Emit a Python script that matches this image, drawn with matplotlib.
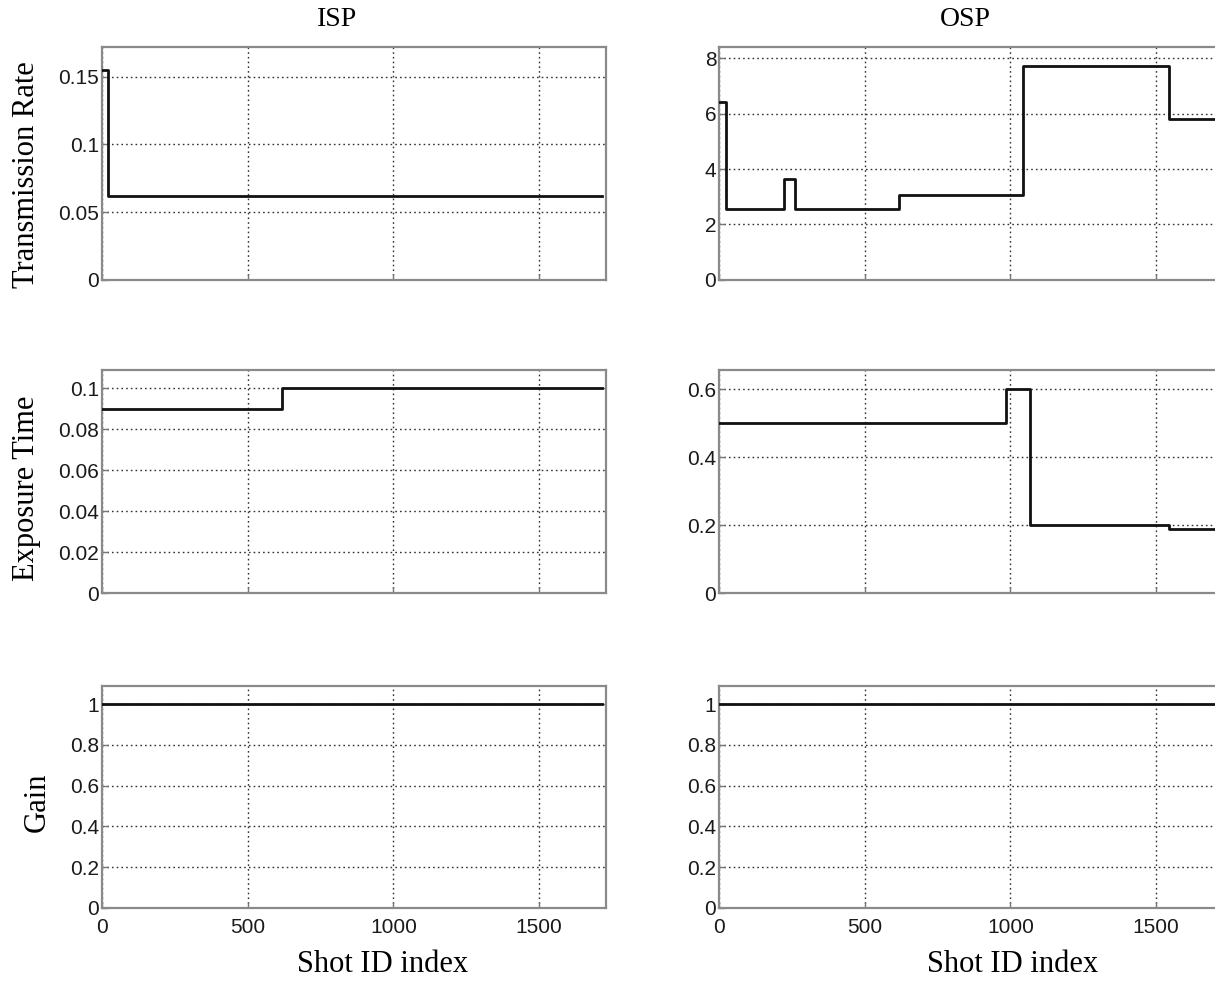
import matplotlib.pyplot as plt
import numpy as np

# step data: x = start of each level, last x = end of line
isp_rate_x = [0, 19, 1715]
isp_rate_y = [0.155, 0.062, 0.062]
osp_rate_x = [0, 24, 223, 260, 618, 1042, 1543, 1715]
osp_rate_y = [6.4, 2.55, 3.65, 2.55, 3.05, 7.7, 5.8, 5.8]

isp_exp_x = [0, 617, 1715]
isp_exp_y = [0.09, 0.1, 0.1]
osp_exp_x = [0, 986, 1068, 1543, 1715]
osp_exp_y = [0.5, 0.6, 0.2, 0.19, 0.19]

isp_gain_x = [0, 1715]
isp_gain_y = [1, 1]
osp_gain_x = [0, 1715]
osp_gain_y = [1, 1]

xticks = [0, 500, 1000, 1500]
ylims = [(0, 0.172), (0, 0.109), (0, 1.09)]
ylims_r = [(0, 8.4), (0, 0.657), (0, 1.09)]
yticks = [[0, 0.05, 0.1, 0.15], [0, 0.02, 0.04, 0.06, 0.08, 0.1], [0, 0.2, 0.4, 0.6, 0.8, 1]]
yticks_r = [[0, 2, 4, 6, 8], [0, 0.2, 0.4, 0.6], [0, 0.2, 0.4, 0.6, 0.8, 1]]
ylabels = ["Transmission Rate", "Exposure Time", "Gain"]

serif = ["Liberation Serif", "DejaVu Serif"]
sans = ["Liberation Sans", "DejaVu Sans"]

fig = plt.figure(figsize=(12.15, 9.82), dpi=100)

rows = [(0.7149, 0.2373), (0.3961, 0.2271), (0.0754, 0.2261)]
cols = [0.0840, 0.5918]
w = 0.4148
# y label centres (pixels from top) and x positions
ylab_pos = [(27, 175), (27, 488), (37, 802)]

data = [
    [(isp_rate_x, isp_rate_y), (osp_rate_x, osp_rate_y)],
    [(isp_exp_x, isp_exp_y), (osp_exp_x, osp_exp_y)],
    [(isp_gain_x, isp_gain_y), (osp_gain_x, osp_gain_y)],
]

W, H = 1215.0, 982.0

for r in range(3):
    for c in range(2):
        ax = fig.add_axes([cols[c], rows[r][0], w, rows[r][1]])
        xs, ys = data[r][c]
        ax.plot(xs, ys, drawstyle="steps-post", color="#111111", lw=2.0, zorder=3)
        ax.set_xlim(0, 1730)
        ax.set_ylim(*(ylims[r] if c == 0 else ylims_r[r]))
        yt = yticks[r] if c == 0 else yticks_r[r]
        ax.set_yticks(yt)
        ax.set_yticklabels(["%g" % v for v in yt], fontfamily=sans, fontsize=15)
        ax.set_xticks(xticks)
        if r == 2:
            ax.set_xticklabels([str(v) for v in xticks], fontfamily=sans, fontsize=15)
            ax.tick_params(axis="x", pad=7)
        else:
            ax.set_xticklabels([])
        ax.grid(True, color="#333333", linestyle=(0, (1.2, 2.2)), lw=1.0)
        ax.tick_params(direction="in", length=4, width=1, colors="#777777",
                       labelcolor="#1a1a1a")
        ax.tick_params(axis="y", pad=2)
        for sp in ax.spines.values():
            sp.set_color("#8a8a8a")
            sp.set_linewidth(1.6)

for r in range(3):
    x, y = ylab_pos[r]
    fig.text(x / W, 1 - y / H, ylabels[r], rotation=90, ha="center", va="center",
             fontfamily=serif, fontsize=22)

fig.text(383 / W, 1 - 964 / H, "Shot ID index", ha="center", va="center", fontfamily=serif, fontsize=22)
fig.text(1013 / W, 1 - 964 / H, "Shot ID index", ha="center", va="center", fontfamily=serif, fontsize=22)
fig.text(337 / W, 1 - 19 / H, "ISP", ha="center", va="center", fontfamily=serif, fontsize=20)
fig.text(965 / W, 1 - 19 / H, "OSP", ha="center", va="center", fontfamily=serif, fontsize=20)

plt.savefig("out.png", dpi=100)
